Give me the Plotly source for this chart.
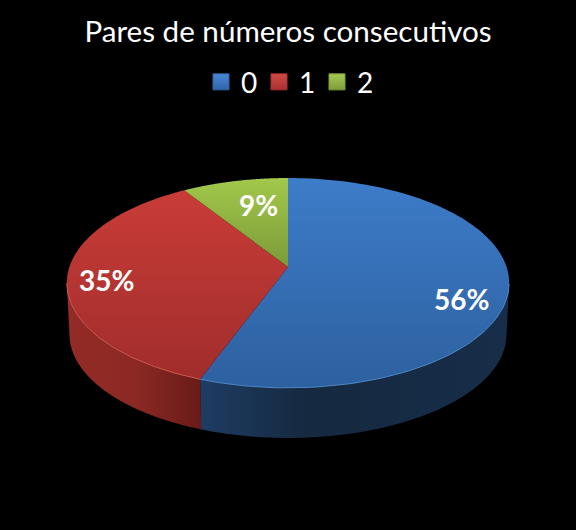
import numpy as np
import plotly.graph_objects as go

titulo = "Pares de números consecutivos"
categorias = ["0", "1", "2"]
valores = [55.6, 35.4, 9.0]

# cores: topo claro, topo escuro, lateral
cores_legenda = ["#4a8ad8", "#d24a45", "#a4c952"]
cores_legenda2 = ["#2f64a8", "#a83230", "#7f9c3a"]
cores_topo = [["#3d7cc9", "#2d609f"], ["#c93c38", "#a02d2b"], ["#a2c84b", "#7b9a38"]]
cores_lado = [
    [[0, "#1e3c63"], [0.35, "#15293f"], [1, "#172d49"]],
    [[0, "#932b26"], [0.5, "#8c2924"], [1, "#691b18"]],
]
cores_borda = ["#4f86c6", "#cf5a52", "#a2c84b"]

# geometria do disco em perspectiva (pixels)
cx, cy = 288, 267
ax, by, k = 218.6, 102.5, 0.152
prof, esc = 51.5, 0.988
pos_rotulos = [(461, 299), (106, 280), (258, 205)]


def projeta(teta, dy=0, s=1):
    u, v = np.sin(teta), np.cos(teta)
    d = 1 + k * v
    return cx + s * ax * u / d, cy + dy - s * by * v / d


limites = np.cumsum([0] + valores) / sum(valores) * 2 * np.pi
# angulos onde a lateral encosta no contorno do disco
tg_dir, tg_esq = np.arccos(-k), 2 * np.pi - np.arccos(-k)

fig = go.Figure()

# laterais primeiro, o topo fica por cima (a fatia verde fica atras)
for i, cat in enumerate(categorias):
    ini, fim = max(limites[i], tg_dir), min(limites[i + 1], tg_esq)
    if ini >= fim:
        continue
    t = np.linspace(ini, fim, 120)
    xa, ya = projeta(t)
    xb, yb = projeta(t[::-1], prof, esc)
    fig.add_trace(go.Scatter(
        x=np.r_[xa, xb], y=np.r_[ya, yb], mode="none", fill="toself",
        fillgradient=dict(type="horizontal", colorscale=cores_lado[i]),
        showlegend=False, hoverinfo="skip"))

for i, cat in enumerate(categorias):
    t = np.linspace(limites[i], limites[i + 1], 120)
    xa, ya = projeta(t)
    # eixo y invertido: o gradiente vai de baixo para cima
    fig.add_trace(go.Scatter(
        x=np.r_[cx, xa, cx], y=np.r_[cy, ya, cy], mode="none", fill="toself",
        fillgradient=dict(type="vertical", colorscale=[[0, cores_topo[i][1]], [1, cores_topo[i][0]]]),
        showlegend=False, name=cat, hoverinfo="skip"))
    # brilho na borda da frente
    fr = t[(t > tg_dir) & (t < tg_esq)]
    if len(fr):
        xr, yr = projeta(fr)
        fig.add_trace(go.Scatter(x=xr, y=yr, mode="lines", line=dict(color=cores_borda[i], width=1),
                                 showlegend=False, hoverinfo="skip"))

# legenda
for i, cat in enumerate(categorias):
    fig.add_trace(go.Scatter(
        x=[None], y=[None], mode="markers", name=cat,
        marker=dict(symbol="square", size=16, color=cores_legenda[i],
                    gradient=dict(type="vertical", color=cores_legenda2[i]),
                    line=dict(color=cores_legenda2[i], width=1))))

for i, v in enumerate(valores):
    fig.add_annotation(x=pos_rotulos[i][0], y=pos_rotulos[i][1], text=f"<b>{round(v)}%</b>", showarrow=False,
                       font=dict(family="Lato", size=28, color="white"))

fig.update_xaxes(range=[0, 576], visible=False, fixedrange=True)
fig.update_yaxes(range=[530, 0], visible=False, fixedrange=True)
fig.update_layout(
    width=576, height=530, margin=dict(l=0, r=0, t=0, b=0),
    paper_bgcolor="black", plot_bgcolor="black",
    title=dict(text=titulo, x=0.5, y=0.941, xanchor="center", yanchor="middle",
               font=dict(family="Lato", size=29.6, color="white")),
    legend=dict(orientation="h", x=0.5, y=0.845, xanchor="center", yanchor="middle",
                font=dict(family="Lato", size=28, color="white"),
                entrywidth=13, entrywidthmode="pixels", itemsizing="trace"),
)
fig.write_html("out.html", config=dict(displayModeBar=False),
               post_script="document.body.style.margin='0';document.body.style.background='black';")
